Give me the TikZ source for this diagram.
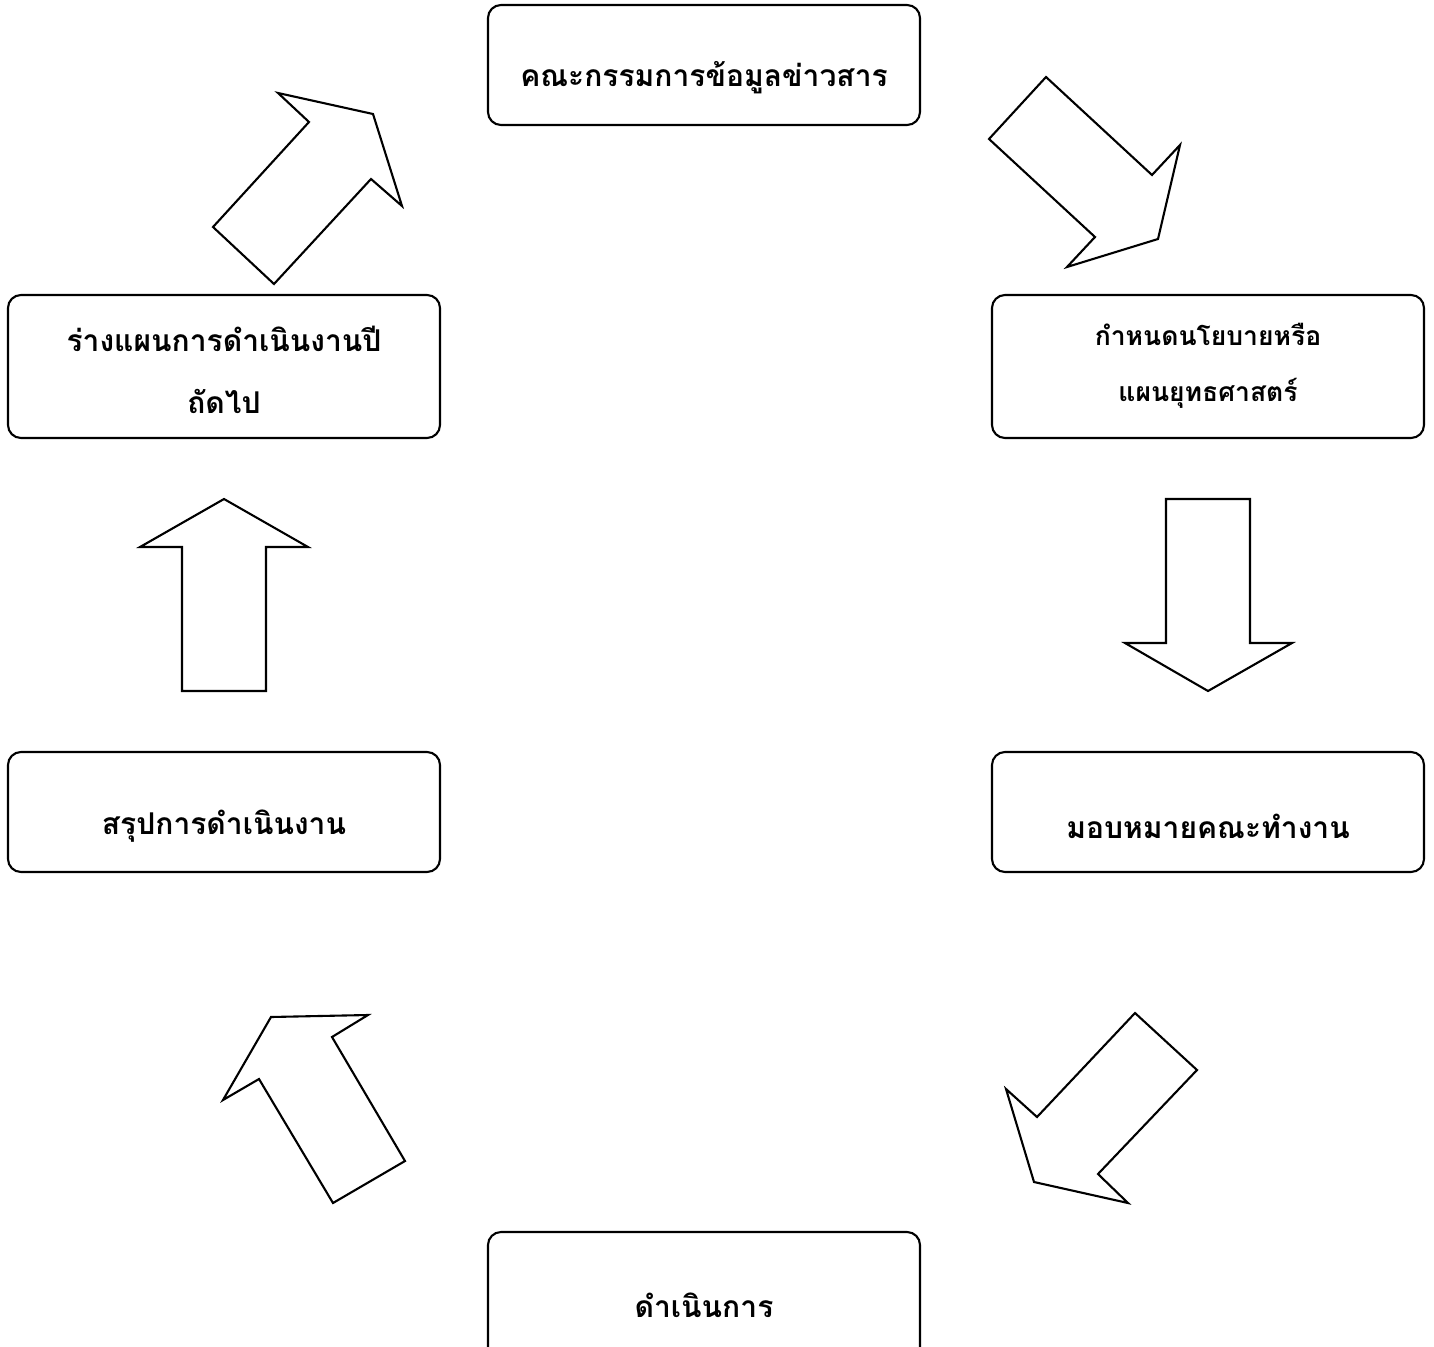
\documentclass[tikz,border=0pt]{standalone}
\usepackage{fontspec}
\newfontfamily\thaifont[Script=Thai]{Loma}
\begin{document}
\begin{tikzpicture}[x=1pt,y=-1pt,
  box/.style={draw,line width=2.1pt,rounded corners=13pt},
  blk/.style={draw,line width=2.1pt,line join=miter},
  lbl/.style={font=\thaifont\bfseries\fontsize{30}{36}\selectfont,align=center,inner sep=0pt},
  lbls/.style={font=\thaifont\bfseries\fontsize{26.5}{56}\selectfont,align=center,inner sep=0pt}]
\useasboundingbox (0,0) rectangle (1434,1346);
\fill[white] (0,0) rectangle (1434,1346);
% boxes
\draw[box] (488,5) rectangle (920,125);
\node[lbl] (tTop) at (704,78) {คณะกรรมการข้อมูลข่าวสาร};
\draw[box] (992,295) rectangle (1424,438);
\node[lbls] (tR1) at (1208,366) {กำหนดนโยบายหรือ\\แผนยุทธศาสตร์};
\draw[box] (992,752) rectangle (1424,872);
\node[lbl] (tR2) at (1208,826) {มอบหมายคณะทำงาน};
\draw[box] (488,1232) rectangle (920,1380);
\node[lbl] (tB) at (704,1305) {ดำเนินการ};
\draw[box] (8,752) rectangle (440,872);
\node[lbl] (tL2) at (224,826) {สรุปการดำเนินงาน};
\draw[box] (8,295) rectangle (440,438);
\node[lbl,align=center,font=\thaifont\bfseries\fontsize{30}{62}\selectfont] (tL1) at (224,370) {ร่างแผนการดำเนินงานปี\\ถัดไป};
% block arrows
\draw[blk] (373,114) -- (402,206) -- (371,179) -- (274,284) -- (213,227) -- (309,122) -- (278,93) -- cycle;
\draw[blk] (1067,267) -- (1095,237) -- (989,139) -- (1046,77) -- (1152,175) -- (1180,145) -- (1158,239) -- cycle;
\draw[blk] (1208,691) -- (1125,643) -- (1166,643) -- (1166,499) -- (1250,499) -- (1250,643) -- (1292,643) -- cycle;
\draw[blk] (224,499) -- (308,547) -- (266,547) -- (266,691) -- (182,691) -- (182,547) -- (140,547) -- cycle;
\draw[blk] (1034,1182) -- (1128,1203) -- (1098,1174) -- (1197,1070) -- (1135,1013) -- (1037,1117) -- (1006,1089) -- cycle;
\draw[blk] (271,1017) -- (368,1015) -- (332,1037) -- (405,1161) -- (333,1203) -- (259,1079) -- (223,1100) -- cycle;
\end{tikzpicture}
\end{document}
